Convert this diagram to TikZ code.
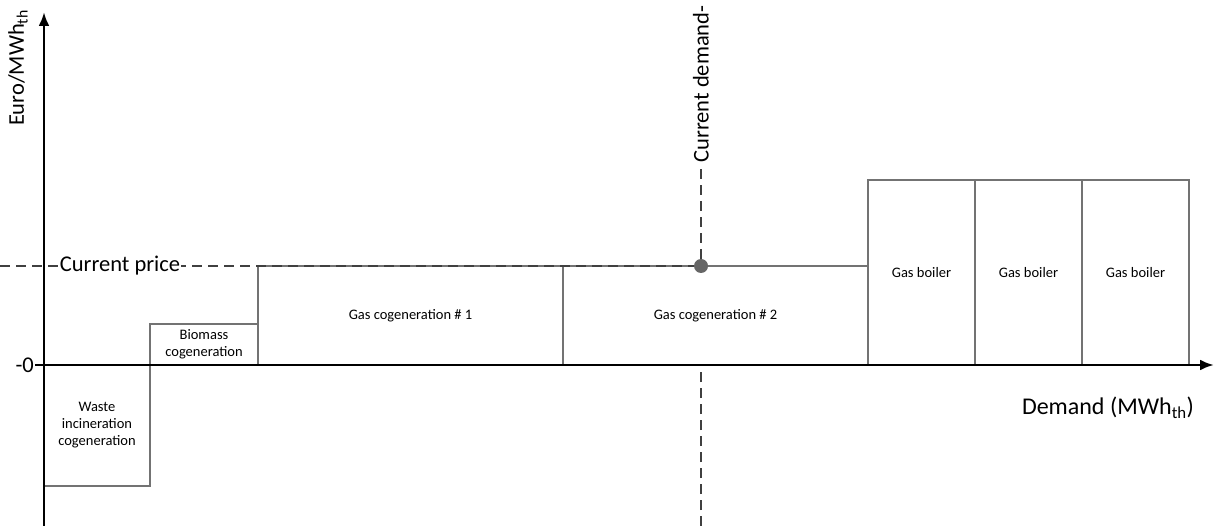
\documentclass[tikz,border=0pt]{standalone}
\usepackage{fontspec}
\setmainfont{Carlito}
\usetikzlibrary{arrows.meta,positioning}

\begin{document}
\begin{tikzpicture}[x=1pt,y=-1pt,
    block/.style={rectangle, draw=black!55, line width=1.2pt, outer sep=0pt, inner sep=0pt, align=center, font=\fontsize{14.5}{17}\selectfont},
    axis/.style={-{Latex[length=14pt,width=11pt]}, line width=2.8pt},
    guide/.style={dash pattern=on 10pt off 6pt, draw=black!75, line width=1.8pt},
    label/.style={font=\fontsize{22.5}{26}\selectfont, inner sep=1pt}
]
\useasboundingbox (0,0) rectangle (1215,526);

% Supply blocks
\node[block, anchor=north west, minimum width=106pt, minimum height=121pt] (waste) at (44,365) {Waste\\incineration\\cogeneration};
\node[block, anchor=south west, minimum width=108pt, minimum height=41pt] (biomass) at (waste.north east) {Biomass\\cogeneration};
\node[block, anchor=south west, minimum width=305pt, minimum height=99pt] (cogen1) at (biomass.south east) {Gas cogeneration \# 1};
\node[block, anchor=south west, minimum width=305pt, minimum height=99pt] (cogen2) at (cogen1.south east) {Gas cogeneration \# 2};
\node[block, anchor=south west, minimum width=107pt, minimum height=185pt] (boiler1) at (cogen2.south east) {Gas boiler};
\node[block, anchor=south west, minimum width=107pt, minimum height=185pt] (boiler2) at (boiler1.south east) {Gas boiler};
\node[block, anchor=south west, minimum width=107pt, minimum height=185pt] (boiler3) at (boiler2.south east) {Gas boiler};

% Current price and demand
\node[circle, fill=black!60, minimum size=14pt, inner sep=0pt] (dot) at (701,266) {};
\coordinate (pleft) at (0,266);
\coordinate (daxis) at (701,365);
\coordinate (dbottom) at (701,526);
\draw[guide] (pleft) -- (dot);
\draw[guide] (dbottom) -- (daxis);
\node[label, fill=white] (price) at (120,266) {Current price};
\node[label, rotate=90] (demand) at (701,84) {Current demand-};
\draw[guide] (dot) -- (demand);

% Axes
\coordinate (ybot) at (44,526);
\coordinate (ytop) at (44,12);
\coordinate (xleft) at (35,365);
\coordinate (xright) at (1214,365);
\draw[axis] (ybot) -- (ytop);
\draw[axis] (xleft) -- (xright);
\node[label, anchor=east] (zero) at (xleft) {-0};
\node[label, rotate=90] (ylab) at (18,68) {Euro/MWh\textsubscript{th}};
\node[label, font=\fontsize{24}{28}\selectfont] (xlab) at (1108,408) {Demand (MWh\textsubscript{th})};

\end{tikzpicture}
\end{document}
